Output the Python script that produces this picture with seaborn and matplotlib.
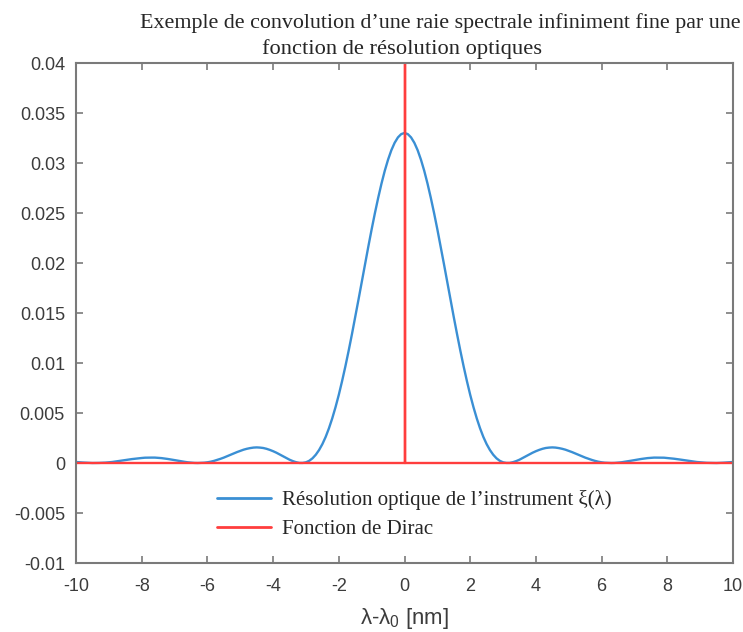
import numpy as np
import pandas as pd
import seaborn as sb
from matplotlib import pyplot as plt

# values (step 0.1 nm, from -10 to 10)
lam = [round(-10 + 0.1 * i, 1) for i in range(201)]
resolution = [
    0.00010,
    0.00007, 0.00005, 0.00003, 0.00001, 0.00000, 0.00000, 0.00001, 0.00002, 0.00004, 0.00007,
    0.00010, 0.00015, 0.00019, 0.00024, 0.00029, 0.00034, 0.00039, 0.00043, 0.00047, 0.00050,
    0.00053, 0.00054, 0.00054, 0.00054, 0.00052, 0.00049, 0.00045, 0.00040, 0.00035, 0.00029,
    0.00023, 0.00017, 0.00012, 0.00007, 0.00004, 0.00001, 0.00000, 0.00001, 0.00003, 0.00007,
    0.00013, 0.00021, 0.00031, 0.00042, 0.00054, 0.00068, 0.00081, 0.00095, 0.00109, 0.00121,
    0.00133, 0.00142, 0.00149, 0.00154, 0.00156, 0.00154, 0.00150, 0.00142, 0.00131, 0.00118,
    0.00103, 0.00086, 0.00068, 0.00050, 0.00033, 0.00019, 0.00008, 0.00001, 0.00001, 0.00007,
    0.00022, 0.00047, 0.00083, 0.00130, 0.00189, 0.00261, 0.00347, 0.00446, 0.00558, 0.00682,
    0.00819, 0.00966, 0.01123, 0.01288, 0.01459, 0.01635, 0.01813, 0.01991, 0.02166, 0.02337,
    0.02500, 0.02653, 0.02795, 0.02923, 0.03034, 0.03128, 0.03202, 0.03256, 0.03289,
    0.03300,
    0.03289, 0.03256, 0.03202, 0.03128, 0.03034, 0.02923, 0.02795, 0.02653, 0.02500,
    0.02337, 0.02166, 0.01991, 0.01813, 0.01635, 0.01459, 0.01288, 0.01123, 0.00966, 0.00819,
    0.00682, 0.00558, 0.00446, 0.00347, 0.00261, 0.00189, 0.00130, 0.00083, 0.00047, 0.00022,
    0.00007, 0.00001, 0.00001, 0.00008, 0.00019, 0.00033, 0.00050, 0.00068, 0.00086, 0.00103,
    0.00118, 0.00131, 0.00142, 0.00150, 0.00154, 0.00156, 0.00154, 0.00149, 0.00142, 0.00133,
    0.00121, 0.00109, 0.00095, 0.00081, 0.00068, 0.00054, 0.00042, 0.00031, 0.00021, 0.00013,
    0.00007, 0.00003, 0.00001, 0.00000, 0.00001, 0.00004, 0.00007, 0.00012, 0.00017, 0.00023,
    0.00029, 0.00035, 0.00040, 0.00045, 0.00049, 0.00052, 0.00054, 0.00054, 0.00054, 0.00053,
    0.00050, 0.00047, 0.00043, 0.00039, 0.00034, 0.00029, 0.00024, 0.00019, 0.00015, 0.00010,
    0.00007, 0.00004, 0.00002, 0.00001, 0.00000, 0.00000, 0.00001, 0.00003, 0.00005, 0.00007,
    0.00010,
]
dirac_x = [-10, 0, 0, 0, 10]
dirac_y = [0, 0, 0.05, 0, 0]

x_ticks = [-10, -8, -6, -4, -2, 0, 2, 4, 6, 8, 10]
y_ticks = [-0.01, -0.005, 0, 0.005, 0.01, 0.015, 0.02, 0.025, 0.03, 0.035, 0.04]
y_labels = ["-0.01", "-0.005", "0", "0.005", "0.01", "0.015", "0.02", "0.025", "0.03", "0.035", "0.04"]

title_lines = [
    "Exemple de convolution d\u2019une raie spectrale infiniment fine par une",
    "fonction de r\u00e9solution optiques",
]
label_res = "R\u00e9solution optique de l\u2019instrument \u03be(\u03bb)"
label_dirac = "Fonction de Dirac"

# * theme
sb.set_style("white")
plt.rcParams["font.family"] = ["Liberation Sans", "DejaVu Sans"]
plt.rcParams["mathtext.fontset"] = "custom"
plt.rcParams["mathtext.rm"] = "Liberation Sans"
plt.rcParams["mathtext.it"] = "Liberation Sans"

blue = "#3a8fd4"
red = "#ff3d3d"
axis_col = "#7a7a7a"
text_col = "#3c3c3c"
serif = ["Liberation Serif", "DejaVu Serif"]

fig = plt.figure(figsize=(7.43, 6.32), dpi=100)
ax = fig.add_axes([76 / 743, 1 - 563 / 632, 657 / 743, 500 / 632])

df_res = pd.DataFrame({"lam": lam, "val": resolution})
df_dirac = pd.DataFrame({"lam": dirac_x, "val": dirac_y})

sb.lineplot(data=df_res, x="lam", y="val", ax=ax, color=blue, linewidth=1.7,
            label=label_res, estimator=None, sort=False)
sb.lineplot(data=df_dirac, x="lam", y="val", ax=ax, color=red, linewidth=1.7,
            label=label_dirac, estimator=None, sort=False)

ax.set_xlim(-10, 10)
ax.set_ylim(-0.01, 0.04)
ax.set_xticks(x_ticks)
ax.set_xticklabels([str(t) for t in x_ticks])
ax.set_yticks(y_ticks)
ax.set_yticklabels(y_labels)

for s in ax.spines.values():
    s.set_color(axis_col)
    s.set_linewidth(1.5)
    s.set_visible(True)
ax.tick_params(direction="in", length=5, width=1.2, color=axis_col,
               bottom=True, left=True, top=True, right=True,
               labelsize=13, labelcolor=text_col)
ax.tick_params(axis="x", pad=11)
ax.tick_params(axis="y", pad=8)

ax.set_xlabel("\u03bb-\u03bb$_0$ [nm]", fontsize=16, color=text_col, labelpad=8)
ax.set_ylabel("")

# * title as two lines placed like in the source image
fig.text(440 / 743, 1 - 28 / 632, title_lines[0], ha="center", va="baseline",
         fontsize=15.8, family=serif)
fig.text(402 / 743, 1 - 54 / 632, title_lines[1], ha="center", va="baseline",
         fontsize=16.2, family=serif)

leg = ax.legend(loc="upper left", bbox_to_anchor=(0.2146, 0.145), frameon=False,
                borderaxespad=0, borderpad=0, handlelength=2.6, handletextpad=0.5,
                labelspacing=0.45, prop={"family": serif, "size": 15})
for line in leg.get_lines():
    line.set_linewidth(2)

plt.savefig("out.png", dpi=100)
plt.close()
